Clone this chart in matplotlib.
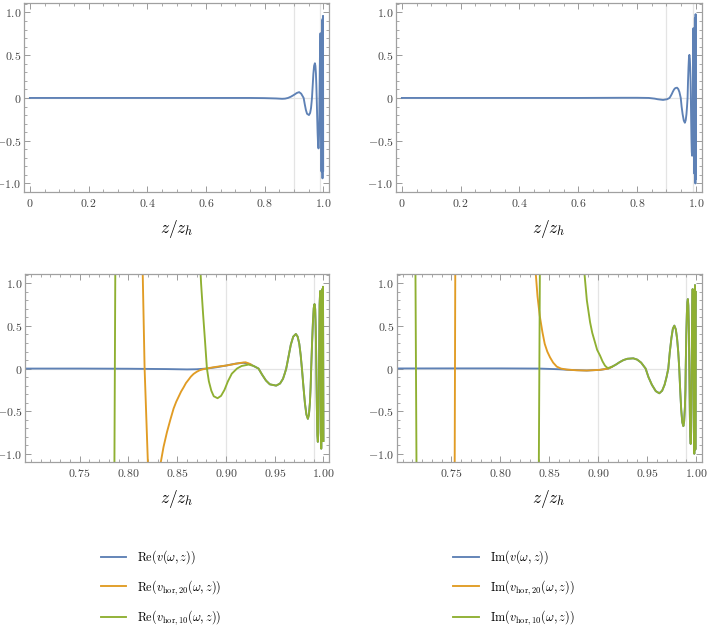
import matplotlib
matplotlib.use('Agg')
import matplotlib.pyplot as plt
from matplotlib.ticker import FixedLocator, MultipleLocator, FixedFormatter

plt.rcParams['mathtext.fontset'] = 'cm'
plt.rcParams['font.family'] = ['DejaVu Serif']

# colours (Mathematica default palette)
c_blue = '#5e81b5'
c_orange = '#e19c24'
c_green = '#8fb032'

# ---------------- data ----------------
# Re(v(w,z))
re_v_x = [0.0, 0.2, 0.4, 0.6, 0.75, 0.80, 0.84, 0.86, 0.87, 0.88, 0.89, 0.90, 0.91, 0.918,
          0.925, 0.9334, 0.9370, 0.9410, 0.9450, 0.9515, 0.9555, 0.9585, 0.9605, 0.9618,
          0.9640, 0.9665, 0.9690, 0.9717, 0.9735, 0.9752, 0.9766, 0.9779,
          0.9795, 0.9810, 0.9825, 0.9840, 0.9851, 0.9861, 0.9868, 0.9874,
          0.9883, 0.9892, 0.9900, 0.9908, 0.9915, 0.9920, 0.9924, 0.9927,
          0.9932, 0.9937, 0.9942, 0.9947, 0.9951, 0.9954,
          0.9960, 0.9966, 0.9970, 0.9973, 0.9977, 0.9981, 0.9985, 0.9988, 0.9991, 0.9993,
          0.9995, 1.0]
re_v_y = [0.0, 0.0, 0.0, 0.0, 0.0, -0.002, -0.006, -0.01, -0.008, 0.0, 0.015, 0.035, 0.058, 0.068,
          0.05, 0.0, -0.07, -0.14, -0.185, -0.20, -0.175, -0.12, -0.05, 0.0,
          0.13, 0.28, 0.375, 0.406, 0.375, 0.29, 0.16, 0.0,
          -0.22, -0.41, -0.54, -0.59, -0.54, -0.40, -0.22, 0.0,
          0.30, 0.55, 0.71, 0.757, 0.70, 0.50, 0.25, 0.0,
          -0.45, -0.78, -0.86, -0.75, -0.40, 0.0,
          0.75, 0.91, 0.5, 0.0, -0.94, 0.0, 0.93, 0.0, -0.85, 0.0,
          0.96, -0.85]

# Re(v_hor,20(w,z))
re_h20_x = [0.70, 0.78, 0.80, 0.81, 0.8146, 0.8166, 0.8201, 0.823, 0.828, 0.8327, 0.836,
            0.8395, 0.843, 0.8463, 0.849, 0.8515, 0.854, 0.8566, 0.859, 0.8617, 0.864,
            0.8668, 0.870, 0.873, 0.8765, 0.8798, 0.887, 0.8942, 0.90, 0.907, 0.914,
            0.92, 0.9235, 0.926]
re_h20_y = [60, 15, 6, 2.8, 1.15, 0.0, -1.15, -2.5, -2.5, -1.13, -0.92,
            -0.747, -0.60, -0.47, -0.39, -0.33, -0.27, -0.22, -0.17, -0.13, -0.095,
            -0.063, -0.038, -0.02, -0.008, 0.0, 0.015, 0.027, 0.035, 0.05, 0.065,
            0.074, 0.06, 0.045]

# Re(v_hor,10(w,z))
re_h10_x = [0.70, 0.78, 0.7855, 0.7861, 0.7867, 0.79, 0.83, 0.866, 0.870, 0.8725, 0.8745,
            0.8765, 0.8785, 0.8805, 0.8825, 0.8850, 0.8875, 0.8914, 0.8950, 0.8985, 0.9020,
            0.9060, 0.9113, 0.9160, 0.9232, 0.9285,
            0.9334, 0.9370, 0.9410, 0.9450, 0.9515, 0.9555, 0.9585, 0.9605, 0.9618,
            0.9640, 0.9665, 0.9690, 0.9717, 0.9735, 0.9752, 0.9766, 0.9779,
            0.9795, 0.9810, 0.9825, 0.9840, 0.9851, 0.9861, 0.9868, 0.9874,
            0.9883, 0.9892, 0.9900, 0.9908, 0.9915, 0.9920, 0.9924, 0.9927,
            0.9932, 0.9937, 0.9942, 0.9947, 0.9951, 0.9954,
            0.9960, 0.9966, 0.9970, 0.9973, 0.9977, 0.9981, 0.9985, 0.9988, 0.9991, 0.9993,
            0.9995, 1.0]
re_h10_y = [-60, -8, -1.5, 0.0, 1.5, 8, 40, 4.0, 2.2, 1.45, 1.0,
            0.65, 0.33, 0.0, -0.15, -0.26, -0.325, -0.348, -0.32, -0.25, -0.15,
            -0.06, 0.0, 0.03, 0.047, 0.03,
            0.0, -0.07, -0.14, -0.185, -0.20, -0.175, -0.12, -0.05, 0.0,
            0.13, 0.28, 0.375, 0.406, 0.375, 0.29, 0.16, 0.0,
            -0.22, -0.41, -0.54, -0.59, -0.54, -0.40, -0.22, 0.0,
            0.30, 0.55, 0.71, 0.757, 0.70, 0.50, 0.25, 0.0,
            -0.45, -0.78, -0.86, -0.75, -0.40, 0.0,
            0.75, 0.91, 0.5, 0.0, -0.94, 0.0, 0.93, 0.0, -0.85, 0.0,
            0.96, -0.85]

# Im(v(w,z))
im_v_x = [0.0, 0.2, 0.4, 0.6, 0.75, 0.80, 0.84, 0.86, 0.87, 0.8884, 0.902, 0.9105,
          0.914, 0.918, 0.922, 0.926, 0.930, 0.936, 0.940, 0.944, 0.9486,
          0.9515, 0.955, 0.959, 0.9626, 0.9655, 0.968, 0.970, 0.9718,
          0.9733, 0.9750, 0.9765, 0.978, 0.9795, 0.9808, 0.9820, 0.983,
          0.9840, 0.9850, 0.9861, 0.9872, 0.9880, 0.9888, 0.9893, 0.9896,
          0.9902, 0.9908, 0.9913, 0.9918, 0.9923, 0.9928, 0.9933,
          0.9938, 0.9942, 0.9947, 0.9951, 0.9954, 0.9957,
          0.9962, 0.9967, 0.9971, 0.9976, 0.9980, 0.9984, 0.9986, 0.9988, 0.9991, 0.9995, 1.0]
im_v_y = [0.0, 0.0, 0.0, 0.0, 0.002, 0.002, 0.0, -0.008, -0.015, -0.023, -0.015, 0.0,
          0.02, 0.045, 0.075, 0.10, 0.115, 0.12, 0.105, 0.07, 0.0,
          -0.10, -0.19, -0.265, -0.29, -0.26, -0.19, -0.10, 0.0,
          0.19, 0.36, 0.47, 0.504, 0.46, 0.35, 0.19, 0.0,
          -0.26, -0.48, -0.63, -0.676, -0.62, -0.45, -0.25, 0.0,
          0.40, 0.65, 0.78, 0.816, 0.74, 0.50, 0.0,
          -0.50, -0.80, -0.884, -0.78, -0.45, 0.0,
          0.70, 0.933, 0.6, 0.0, -0.75, -1.0, -0.5, 0.0, 0.98, -0.95, 0.90]

# Im(v_hor,20(w,z))
im_h20_x = [0.70, 0.75, 0.7532, 0.7536, 0.7540, 0.76, 0.80, 0.83, 0.8362, 0.838, 0.8403,
            0.843, 0.8454, 0.848, 0.8508, 0.854, 0.8577, 0.862, 0.868, 0.878, 0.8884,
            0.902, 0.9105, 0.914]
im_h20_y = [-60, -5, -1.5, 0.0, 1.5, 10, 30, 3.0, 1.12, 0.85, 0.62,
            0.43, 0.29, 0.20, 0.132, 0.07, 0.023, 0.0, -0.012, -0.02, -0.023,
            -0.015, 0.0, 0.02]

# Im(v_hor,10(w,z))
im_h10_x = [0.70, 0.71, 0.7130, 0.7137, 0.7144, 0.72, 0.78, 0.835, 0.8392, 0.8399, 0.8406,
            0.845, 0.87, 0.880, 0.886, 0.8885, 0.8918, 0.894, 0.8968, 0.899, 0.902, 0.9045,
            0.907, 0.909, 0.9105,
            0.914, 0.918, 0.922, 0.926, 0.930, 0.936, 0.940, 0.944, 0.9486,
            0.9515, 0.955, 0.959, 0.9626, 0.9655, 0.968, 0.970, 0.9718,
            0.9733, 0.9750, 0.9765, 0.978, 0.9795, 0.9808, 0.9820, 0.983,
            0.9840, 0.9850, 0.9861, 0.9872, 0.9880, 0.9888, 0.9893, 0.9896,
            0.9902, 0.9908, 0.9913, 0.9918, 0.9923, 0.9928, 0.9933,
            0.9938, 0.9942, 0.9947, 0.9951, 0.9954, 0.9957,
            0.9962, 0.9967, 0.9971, 0.9976, 0.9980, 0.9984, 0.9986, 0.9988, 0.9991, 0.9995, 1.0]
im_h10_y = [60, 6, 1.5, 0.0, -1.5, -8, -60, -8, -1.5, 0.0, 1.5,
            8, 5, 2.0, 1.12, 0.80, 0.543, 0.42, 0.308, 0.22, 0.152, 0.085,
            0.035, 0.012, 0.007,
            0.02, 0.045, 0.075, 0.10, 0.115, 0.12, 0.105, 0.07, 0.0,
            -0.10, -0.19, -0.265, -0.29, -0.26, -0.19, -0.10, 0.0,
            0.19, 0.36, 0.47, 0.504, 0.46, 0.35, 0.19, 0.0,
            -0.26, -0.48, -0.63, -0.676, -0.62, -0.45, -0.25, 0.0,
            0.40, 0.65, 0.78, 0.816, 0.74, 0.50, 0.0,
            -0.50, -0.80, -0.884, -0.78, -0.45, 0.0,
            0.70, 0.933, 0.6, 0.0, -0.75, -1.0, -0.5, 0.0, 0.98, -0.95, 0.90]

# ticks
top_xticks = [0, 0.2, 0.4, 0.6, 0.8, 1.0]
top_xticklabels = ['0', '0.2', '0.4', '0.6', '0.8', '1.0']
bot_xticks = [0.75, 0.80, 0.85, 0.90, 0.95, 1.00]
bot_xticklabels = ['0.75', '0.80', '0.85', '0.90', '0.95', '1.00']
yticks = [-1.0, -0.5, 0, 0.5, 1.0]
yticklabels = ['-1.0', '-0.5', '0', '0.5', '1.0']
grid_x = [0.9, 0.99]

re_labels = [r'$\mathrm{Re}(v(\omega,z))$',
             r'$\mathrm{Re}(v_{\mathrm{hor},20}(\omega,z))$',
             r'$\mathrm{Re}(v_{\mathrm{hor},10}(\omega,z))$']
im_labels = [r'$\mathrm{Im}(v(\omega,z))$',
             r'$\mathrm{Im}(v_{\mathrm{hor},20}(\omega,z))$',
             r'$\mathrm{Im}(v_{\mathrm{hor},10}(\omega,z))$']


def as_math(labels):
    # {-} keeps mathtext from padding the sign like a binary operator
    return ['$' + s.replace('-', '{-}') + '$' for s in labels]


fig = plt.figure(figsize=(7.13, 6.30), dpi=100)
ax_tl = fig.add_axes([0.0337, 0.6952, 0.4278, 0.300])
ax_tr = fig.add_axes([0.5554, 0.6952, 0.4288, 0.300])
ax_bl = fig.add_axes([0.0351, 0.2662, 0.4268, 0.2989])
ax_br = fig.add_axes([0.5564, 0.2662, 0.4278, 0.2989])


def style_axes(ax, xticks, xlabels, xminor, xlim):
    ax.set_xlim(*xlim)
    ax.set_ylim(-1.1, 1.11)
    for g in grid_x:
        ax.axvline(g, color='#e4e4e4', lw=0.9, zorder=0)
    ax.axhline(0, color='#e4e4e4', lw=0.9, zorder=0)
    ax.xaxis.set_major_locator(FixedLocator(xticks))
    ax.xaxis.set_major_formatter(FixedFormatter(as_math(xlabels)))
    ax.xaxis.set_minor_locator(MultipleLocator(xminor))
    ax.yaxis.set_major_locator(FixedLocator(yticks))
    ax.yaxis.set_major_formatter(FixedFormatter(as_math(yticklabels)))
    ax.yaxis.set_minor_locator(MultipleLocator(0.1))
    ax.tick_params(which='both', direction='in', top=True, right=True,
                   color='#9a9a9a', labelcolor='#444444', labelsize=8.5)
    ax.tick_params(which='major', length=4.5, width=0.7)
    ax.tick_params(which='minor', length=2.5, width=0.6)
    ax.tick_params(axis='y', pad=2.0)
    for s in ax.spines.values():
        s.set_color('#a0a0a0')
        s.set_linewidth(0.9)
    ax.set_xlabel(r'$z/z_h$', fontsize=12.5, labelpad=6)


lw = 1.35
ax_tl.plot(re_v_x, re_v_y, color=c_blue, lw=lw)
style_axes(ax_tl, top_xticks, top_xticklabels, 0.05, (-0.02, 1.02))

ax_tr.plot(im_v_x, im_v_y, color=c_blue, lw=lw)
style_axes(ax_tr, top_xticks, top_xticklabels, 0.05, (-0.02, 1.02))

lines_re = []
lines_re += ax_bl.plot(re_v_x, re_v_y, color=c_blue, lw=lw)
lines_re += ax_bl.plot(re_h20_x, re_h20_y, color=c_orange, lw=lw)
lines_re += ax_bl.plot(re_h10_x, re_h10_y, color=c_green, lw=lw)
style_axes(ax_bl, bot_xticks, bot_xticklabels, 0.01, (0.694, 1.006))

lines_im = []
lines_im += ax_br.plot(im_v_x, im_v_y, color=c_blue, lw=lw)
lines_im += ax_br.plot(im_h20_x, im_h20_y, color=c_orange, lw=lw)
lines_im += ax_br.plot(im_h10_x, im_h10_y, color=c_green, lw=lw)
style_axes(ax_br, bot_xticks, bot_xticklabels, 0.01, (0.694, 1.006))

leg_kw = dict(loc='upper left', frameon=False, fontsize=8.8, handlelength=2.05,
              handletextpad=0.9, labelspacing=0.95, borderpad=0, borderaxespad=0)
fig.legend(lines_re, re_labels, bbox_to_anchor=(0.141, 0.129), **leg_kw)
fig.legend(lines_im, im_labels, bbox_to_anchor=(0.636, 0.129), **leg_kw)

fig.savefig('out.png', dpi=100)
